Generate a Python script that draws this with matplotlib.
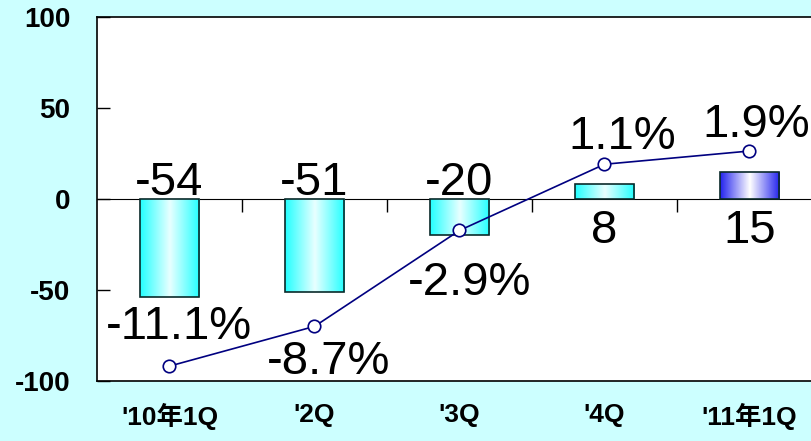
import matplotlib.pyplot as plt
import numpy as np
from matplotlib.colors import LinearSegmentedColormap

quarters = ["'10年1Q", "'2Q", "'3Q", "'4Q", "'11年1Q"]
amounts = [-54, -51, -20, 8, 15]
growth = [-11.1, -8.7, -2.9, 1.1, 1.9]
growth_labels = ['-11.1%', '-8.7%', '-2.9%', '1.1%', '1.9%']

plt.rcParams['axes.unicode_minus'] = False
sans = ['Liberation Sans', 'Noto Sans CJK JP']

fig = plt.figure(figsize=(8.12, 4.41), dpi=100, facecolor='#ccffff')
ax = fig.add_axes([97/812, 60/441, 725/812, 364/441])
ax.set_facecolor('white')

x = np.arange(len(quarters))
bars = ax.bar(x, amounts, width=0.41, edgecolor='#0a2a2a', linewidth=1.2, zorder=3)

cyan = LinearSegmentedColormap.from_list('c', ['#22ffff', '#e8ffff', '#22ffff'])
blue = LinearSegmentedColormap.from_list('b', ['#2222ee', '#ffffff', '#2222ee'])
grad = np.linspace(0, 1, 256).reshape(1, -1)
for i, b in enumerate(bars):
    b.set_facecolor('none')
    bx, by = b.get_x(), b.get_y()
    im = ax.imshow(grad, cmap=blue if i == len(bars) - 1 else cyan, aspect='auto',
                   extent=(bx, bx + b.get_width(), by, by + b.get_height()), zorder=2)
    im.set_clip_path(b)

ax.set_xlim(-0.5, len(quarters) - 0.5)
ax.set_ylim(-100, 100)
ax.set_yticks([-100, -50, 0, 50, 100])
ax.set_yticklabels(['-100', '-50', '0', '50', '100'])
ax.tick_params(axis='y', direction='in', length=9, width=1, pad=19, labelsize=20)
for t in ax.get_yticklabels():
    t.set_family('Liberation Sans')
    t.set_fontweight('bold')
ax.set_xticks(x)
ax.set_xticklabels(quarters)
ax.tick_params(axis='x', length=0, pad=16, labelsize=19)
for t in ax.get_xticklabels():
    t.set_family(sans)
    t.set_fontweight('bold')
for s in ['left', 'top', 'bottom']:
    ax.spines[s].set_linewidth(1.2)
ax.spines['right'].set_visible(False)

zero = ax.secondary_xaxis(0.5)
zero.set_xticks(x[:-1] + 0.5)
zero.tick_params(direction='in', length=9, width=1, labelbottom=False, labeltop=False)
zero.spines['bottom'].set_linewidth(1.2)

for b, v in zip(bars, amounts):
    cx = b.get_x() + b.get_width() / 2
    if v < 0:
        ax.annotate(str(v), (cx, 0), xytext=(0, -4), textcoords='offset points',
                    ha='center', va='bottom', fontsize=34, family=sans, zorder=5)
    else:
        ax.annotate(str(v), (cx, 0), xytext=(0, -7), textcoords='offset points',
                    ha='center', va='top', fontsize=34, family=sans, zorder=5)

ax2 = ax.twinx()
ax2.set_ylim(-12, 10)
ax2.axis('off')
ax2.plot(x, growth, color='#000080', linewidth=1.2, marker='o', markersize=9,
         markerfacecolor='white', markeredgecolor='#000080', markeredgewidth=1.2, zorder=4)

offsets = [(7, 12), (10, -10), (7, -22), (13, 4), (5, 3)]
for xi, v, lab, off in zip(x, growth, growth_labels, offsets):
    ax2.annotate(lab, (xi, v), xytext=off, textcoords='offset points', ha='center',
                 va='bottom' if off[1] > 0 else 'top', fontsize=34, family=sans)

fig.savefig('out.png', dpi=100, facecolor=fig.get_facecolor())
